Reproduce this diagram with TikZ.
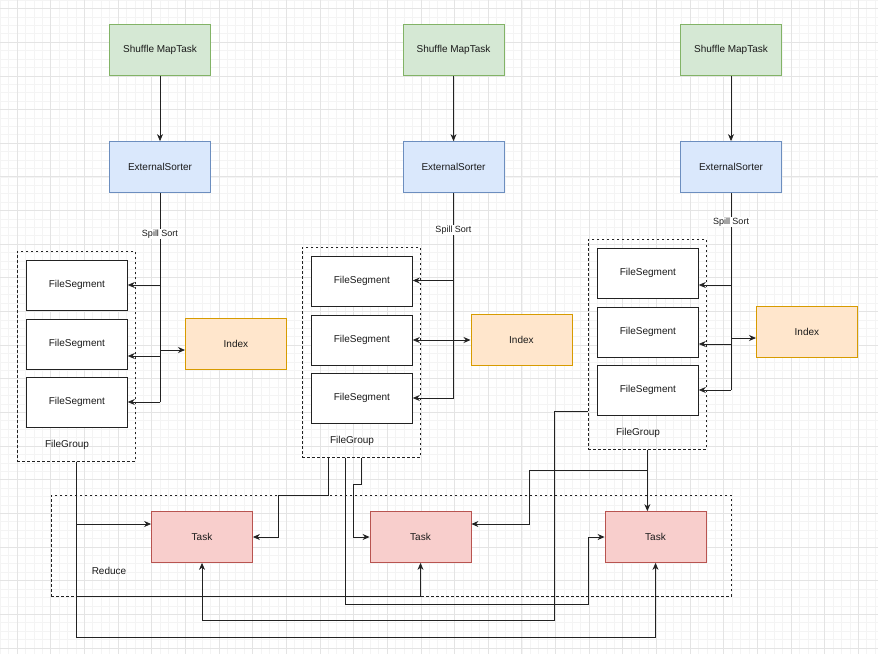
\documentclass[tikz,border=0pt]{standalone}
\usepackage{fontspec}
\setmainfont{Liberation Sans}
\usetikzlibrary{arrows.meta}

\definecolor{mapfill}{HTML}{D5E8D4}
\definecolor{mapline}{HTML}{82B366}
\definecolor{sortfill}{HTML}{DAE8FC}
\definecolor{sortline}{HTML}{6C8EBF}
\definecolor{indexfill}{HTML}{FFE6CC}
\definecolor{indexline}{HTML}{D79B00}
\definecolor{taskfill}{HTML}{F8CECC}
\definecolor{taskline}{HTML}{B85450}
\definecolor{gridminor}{HTML}{F4F4F4}
\definecolor{gridmajor}{HTML}{E4E4E4}
\definecolor{edge}{HTML}{222222}
\definecolor{ink}{HTML}{1A1A1A}

\tikzset{
  box/.style={draw, line width=0.8pt, minimum width=101pt, minimum height=51pt, inner sep=0pt, text=ink, font=\fontsize{10}{12}\selectfont},
  mapbox/.style={box, draw=mapline, fill=mapfill},
  sortbox/.style={box, draw=sortline, fill=sortfill},
  indexbox/.style={box, draw=indexline, fill=indexfill},
  taskbox/.style={box, draw=taskline, fill=taskfill},
  segbox/.style={box, draw=edge, fill=white, minimum height=50pt},
  groupbox/.style={draw=edge, line width=0.7pt, dash pattern=on 2.5pt off 2.5pt, inner sep=0pt},
  tag/.style={font=\fontsize{10}{12}\selectfont, text=ink, inner sep=1pt},
  spilltag/.style={font=\fontsize{9}{11}\selectfont, text=ink, fill=white, inner sep=1pt},
  link/.style={draw=edge, line width=0.8pt},
  arr/.style={link, -{Stealth[length=7pt,width=6pt]}},
}

\begin{document}
\begin{tikzpicture}[x=1pt,y=-1pt]
      \useasboundingbox[fill=white] (0,0) rectangle (878,654);

      % grid
      \foreach \k in {0,...,104} \draw[gridminor, line width=0.5pt] ({0.175+\k*8.4125},0) -- ++(0,654);
      \foreach \k in {0,...,77} \draw[gridminor, line width=0.5pt] (0,{0.09+\k*8.4125}) -- ++(878,0);
      \foreach \k in {0,...,25} \draw[gridmajor, line width=0.6pt] ({17+\k*33.65},0) -- ++(0,654);
      \foreach \k in {0,...,19} \draw[gridmajor, line width=0.6pt] (0,{8.5+\k*33.65}) -- ++(878,0);

      % reduce side
      \node[groupbox, anchor=north west, minimum width=680pt, minimum height=101pt] (reduce) at (51,495) {};
      \node[tag] (reducetag) at (109,571) {Reduce};
      \foreach \j/\x in {1/202,2/420.5,3/655.5} {
            \node[taskbox] (task\j) at (\x,537) {Task};
      }

      % one column per map task
      \foreach \i/\cx/\gx/\gy/\ox/\ya/\yb/\yc/\yx in {1/160/17/251/25/285/356/402/350,2/453.5/302/247/17/280.5/340/398/340,3/731/588/239/25/285/344/390/338} {
            \node[mapbox] (map\i) at (\cx,50) {Shuffle MapTask};
            \node[sortbox] (sort\i) at (\cx,167) {ExternalSorter};
            \draw[arr] (map\i) -- (sort\i);

            \node[groupbox, anchor=north west, minimum width=118pt, minimum height=210pt] (group\i) at (\gx,\gy) {};
            \node[tag] (grouptag\i) at (\gx+50,\gy+194) {FileGroup};
            \foreach \k/\dy in {1/9,2/68,3/126} {
                  \node[segbox, anchor=north west] (seg\i\k) at (\gx+9,\gy+\dy) {FileSegment};
            }
            \node[indexbox, anchor=north west] (index\i) at (\cx+\ox,\gy+67) {Index};

            \coordinate (tap\i1) at (\cx,\ya);
            \coordinate (tap\i2) at (\cx,\yb);
            \coordinate (tap\i3) at (\cx,\yc);
            \coordinate (tapx\i) at (\cx,\yx);
            \draw[link] (sort\i.south) -- (tap\i3);
            \node[spilltag] (spill\i) at (\cx,\gy-17) {Spill Sort};
            \foreach \k in {1,2,3} {
                  \draw[arr] (tap\i\k) -- (tap\i\k -| seg\i\k.east);
            }
            \draw[arr] (tapx\i) -- (tapx\i -| index\i.west);
      }

      % file groups to reduce tasks
      \draw[arr] (group1.south) |- ([yshift=13pt]task1.west);
      \draw[arr] (group1.south) -- ++(0,135) -| (task2.south);
      \draw[arr] (group1.south) -- ++(0,176) -| (task3.south);

      \draw[arr] ([xshift=-33pt]group2.south) |- (278,495) |- (task1.east);
      \draw[arr] (group2.south) |- (353,484) |- (task2.west);
      \draw[arr] ([xshift=-16pt]group2.south) |- (588,604) |- (task3.west);

      \draw[arr] ([yshift=-67pt]group3.west) -| (554,620) -| (task1.south);
      \draw[arr] (group3.south) |- (529,470) |- ([yshift=13pt]task2.east);
      \draw[arr] (group3.south) -- (group3.south |- task3.north);
\end{tikzpicture}
\end{document}
